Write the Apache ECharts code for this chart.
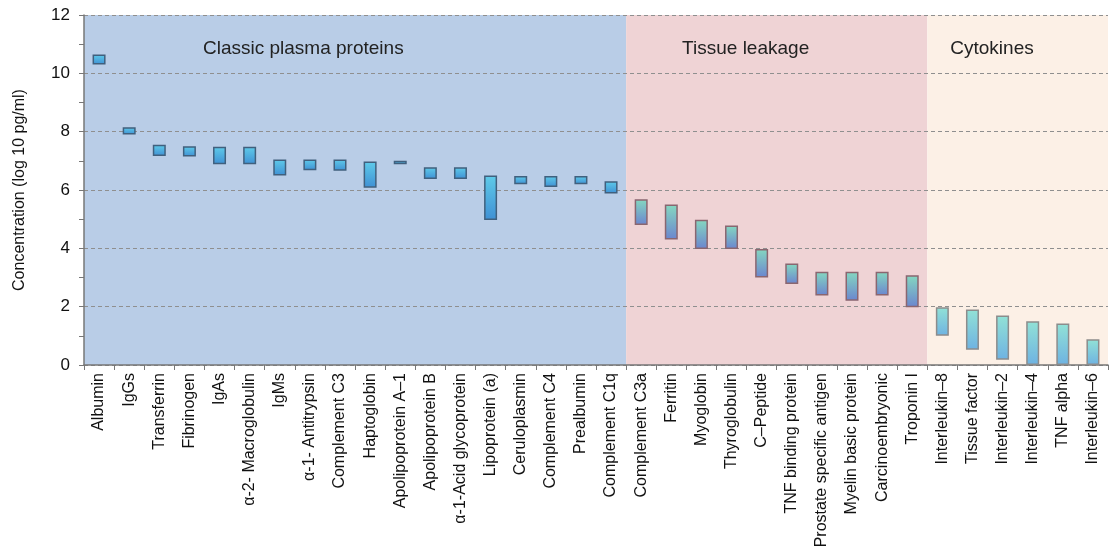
<!DOCTYPE html>
<html>
<head>
<meta charset="utf-8">
<script src="https://cdn.jsdelivr.net/npm/echarts@6/dist/echarts.min.js"></script>
<style>html,body{margin:0;padding:0;background:#fff;}#c{width:1111px;height:555px;}</style>
</head>
<body>
<div id="c"></div>
<script>
var categories = ['Albumin','IgGs','Transferrin','Fibrinogen','IgAs','\u03b1-2- Macroglobulin','IgMs','\u03b1-1- Antitrypsin','Complement C3','Haptoglobin','Apolipoprotein A\u20131','Apolipoprotein B','\u03b1-1-Acid glycoprotein','Lipoprotein (a)','Ceruloplasmin','Complement C4','Prealbumin','Complement C1q','Complement C3a','Ferritin','Myoglobin','Thyroglobulin','C\u2013Peptide','TNF binding protein','Prostate specific antigen','Myelin basic protein','Carcinoembryonic','Troponin I','Interleukin\u20138','Tissue factor','Interleukin\u20132','Interleukin\u20134','TNF alpha','Interleukin\u20136'];
var lowValues  = [10.3,7.9,7.17,7.15,6.88,6.88,6.5,6.68,6.66,6.08,6.88,6.38,6.38,4.97,6.2,6.1,6.2,5.88,4.8,4.3,3.98,3.98,3.0,2.78,2.38,2.2,2.38,1.98,1.0,0.52,0.18,0.0,0.0,0.0];
var highValues = [10.65,8.15,7.55,7.5,7.48,7.48,7.05,7.05,7.05,6.98,7.0,6.78,6.78,6.5,6.48,6.48,6.48,6.3,5.68,5.5,4.98,4.78,3.98,3.48,3.2,3.2,3.2,3.08,1.98,1.9,1.7,1.5,1.42,0.88];
var groupNames = ['Classic plasma proteins','Tissue leakage','Cytokines'];
var groupCounts = [18,10,6];
var yTicks = [0,2,4,6,8,10,12];

var bandColors = ['#b9cde7','#efd3d5','#fcf0e6'];
var barTop = ['#5fcbe9','#85d8c0','#92e2d6'];
var barBottom = ['#3f90d4','#6b85cf','#6eb2e2'];
var barBorder = ['#40607e','#8a6670','#8c8c8c'];
var labelOffsets = [[114,19],[51,19],[18,19]];

var groupIndex = [];
groupCounts.forEach(function(n,g){ for(var i=0;i<n;i++) groupIndex.push(g); });

var baseData = lowValues.slice();
var rangeData = highValues.map(function(h,i){
  var g = groupIndex[i];
  return {
    value: +(h - lowValues[i]).toFixed(3),
    itemStyle: {
      color: new echarts.graphic.LinearGradient(0,0,0,1,[{offset:0,color:barTop[g]},{offset:1,color:barBottom[g]}]),
      borderColor: barBorder[g], borderWidth: 1.5
    }
  };
});

var areas = [];
var start = 0;
groupCounts.forEach(function(n,g){
  areas.push([{
    xAxis: start,
    itemStyle: {color: bandColors[g]},
    label: {show:true, formatter: groupNames[g], position:'insideTopLeft', offset: labelOffsets[g], color:'#222', fontSize:19, fontFamily:'Liberation Sans, Arial, sans-serif'}
  },{xAxis: start + n}]);
  start += n;
});

var chart = echarts.init(document.getElementById('c'), null, {renderer:'canvas'});
chart.setOption({
  animation: false,
  backgroundColor: '#ffffff',
  textStyle: {fontFamily: 'Liberation Sans, Arial, sans-serif'},
  grid: {left: 84, right: 3, top: 15, bottom: 190, containLabel: false},
  xAxis: [{
    type: 'category',
    data: categories,
    boundaryGap: true,
    axisLine: {lineStyle: {color: '#777', width: 1.5}},
    axisTick: {show: true, alignWithLabel: false, length: 5, lineStyle: {color: '#777'}},
    axisLabel: {rotate: 90, interval: 0, color: '#111', fontSize: 16, margin: 8},
    splitLine: {show: false},
    z: 5
  },{
    type: 'value', min: 0, max: categories.length, show: false
  }],
  yAxis: {
    type: 'value', min: 0, max: 12, interval: 2,
    name: 'Concentration (log 10 pg/ml)',
    nameLocation: 'middle', nameGap: 56, nameRotate: 90,
    nameTextStyle: {color: '#111', fontSize: 16},
    axisLine: {show: true, lineStyle: {color: '#777', width: 1.5}},
    axisTick: {show: true, length: 5, lineStyle: {color: '#777'}},
    minorTick: {show: true, splitNumber: 2, length: 5, lineStyle: {color: '#777'}},
    axisLabel: {color: '#111', fontSize: 17, margin: 14,
      formatter: function(v){ return yTicks.indexOf(v) >= 0 ? String(v) : ''; }},
    splitLine: {show: true, lineStyle: {color: '#8f8f8f', type: [4,3], width: 1}},
    z: 5
  },
  series: [{
    type: 'line',
    xAxisIndex: 1,
    data: [],
    z: -1,
    silent: true,
    markArea: {silent: true, data: areas}
  },{
    name: 'base', type: 'bar', stack: 'r', data: baseData,
    itemStyle: {color: 'rgba(0,0,0,0)'}, barWidth: 13, silent: true, z: 10
  },{
    name: 'range', type: 'bar', stack: 'r', data: rangeData, barWidth: 13, z: 10
  }]
});
</script>
</body>
</html>
